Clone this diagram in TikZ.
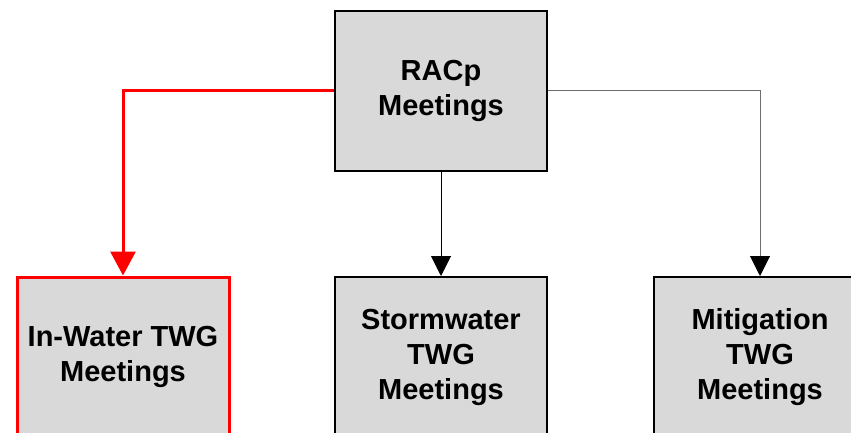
\documentclass[tikz,border=0pt]{standalone}
\usepackage{fontspec}
\setmainfont{Liberation Sans}
\usepackage{tikz}
\usetikzlibrary{arrows.meta, positioning}
\definecolor{boxgray}{RGB}{217,217,217}
\definecolor{linkred}{RGB}{255,0,0}
\definecolor{linkgray}{RGB}{110,110,110}
\tikzset{
  block/.style={rectangle, minimum width=212pt, minimum height=160pt,
    inner sep=0pt, align=center, draw=black, line width=2pt, fill=boxgray,
    font=\bfseries\fontsize{29}{35}\selectfont},
  redblock/.style={block, draw=linkred, line width=3pt},
  arrow/.style={-{Triangle[width=20pt, length=20pt, color=black]}, line width=1pt, color=black},
  grayarrow/.style={arrow, color=linkgray},
  redarrow/.style={-{Triangle[width=25pt, length=24pt]}, line width=3pt, color=linkred},
}
\begin{document}
\begin{tikzpicture}[x=1pt, y=-1pt]

  \useasboundingbox (0,0) rectangle (851,433);

  %% top
  \node[block] (racp) at (441, 91) {RACp\\Meetings};

  %% working groups
  \node[redblock] (inwater) at (123, 357) {In-Water TWG\\Meetings};
  \node[block] (storm) at (441, 357) {Stormwater\\TWG\\Meetings};
  \node[block] (mitig) at (760, 357) {Mitigation\\TWG\\Meetings};

  %% links
  \draw[redarrow] (racp.west) -| (inwater.north);
  \draw[arrow] (racp.south) -- (storm.north);
  \draw[grayarrow] (racp.east) -| (mitig.north);

\end{tikzpicture}
\end{document}
